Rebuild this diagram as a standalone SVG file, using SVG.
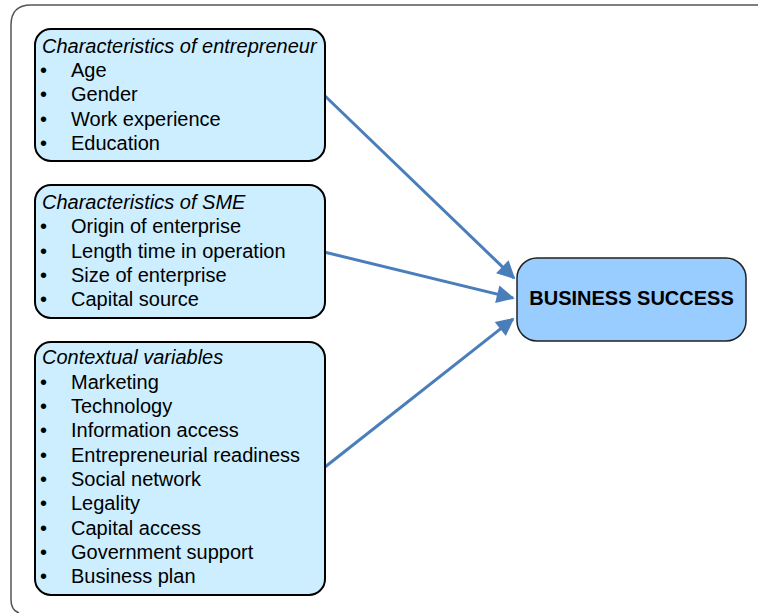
<svg xmlns="http://www.w3.org/2000/svg" width="758" height="613" viewBox="0 0 758 613">
  <style>
    .box { fill: #cceeff; stroke: #000; stroke-width: 2; }
    .goal { fill: #99ccff; stroke: #222; stroke-width: 1.5; }
    .t { font-family: "Liberation Sans", Arial, sans-serif; font-size: 20px; fill: #000; }
    .h { font-style: italic; }
    .b { font-weight: bold; }
    .link { stroke: #4a7ebb; stroke-width: 3; fill: none; marker-end: url(#arrow); }
  </style>
  <defs>
    <marker id="arrow" viewBox="0 0 10 10" refX="9" refY="5" markerWidth="7" markerHeight="6" markerUnits="strokeWidth" orient="auto">
      <path d="M0,0 L10,5 L0,10 z" fill="#4a7ebb"/>
    </marker>
  </defs>

  <rect width="758" height="613" fill="#fff"/>
  <!-- outer frame -->
  <path d="M11,600 L11,25 Q11,5 31,5 L758,5" fill="none" stroke="#555" stroke-width="1.5"/>
  <path d="M11,600 Q11,610 19,613" fill="none" stroke="#555" stroke-width="1.5"/>

  <g id="connectors">
    <line class="link" x1="324" y1="95" x2="514" y2="278"/>
    <line class="link" x1="324" y1="252" x2="513" y2="298"/>
    <line class="link" x1="325" y1="467" x2="513" y2="319"/>
  </g>

  <g id="entrepreneur">
    <rect class="box" x="35" y="29" width="290" height="132" rx="16"/>
    <text class="t h" x="42" y="53">Characteristics of entrepreneur</text>
    <text class="t" x="40" y="77">•</text><text class="t" x="71" y="77">Age</text>
    <text class="t" x="40" y="101">•</text><text class="t" x="71" y="101">Gender</text>
    <text class="t" x="40" y="126">•</text><text class="t" x="71" y="126">Work experience</text>
    <text class="t" x="40" y="150">•</text><text class="t" x="71" y="150">Education</text>
  </g>

  <g id="sme">
    <rect class="box" x="35" y="185" width="290" height="133" rx="16"/>
    <text class="t h" x="42" y="209">Characteristics of SME</text>
    <text class="t" x="40" y="233">•</text><text class="t" x="71" y="233">Origin of enterprise</text>
    <text class="t" x="40" y="258">•</text><text class="t" x="71" y="258">Length time in operation</text>
    <text class="t" x="40" y="282">•</text><text class="t" x="71" y="282">Size of enterprise</text>
    <text class="t" x="40" y="306">•</text><text class="t" x="71" y="306">Capital source</text>
  </g>

  <g id="contextual">
    <rect class="box" x="35" y="342" width="290" height="253" rx="16"/>
    <text class="t h" x="42" y="364">Contextual variables</text>
    <text class="t" x="40" y="389">•</text><text class="t" x="71" y="389">Marketing</text>
    <text class="t" x="40" y="413">•</text><text class="t" x="71" y="413">Technology</text>
    <text class="t" x="40" y="437">•</text><text class="t" x="71" y="437">Information access</text>
    <text class="t" x="40" y="462">•</text><text class="t" x="71" y="462">Entrepreneurial readiness</text>
    <text class="t" x="40" y="486">•</text><text class="t" x="71" y="486">Social network</text>
    <text class="t" x="40" y="510">•</text><text class="t" x="71" y="510">Legality</text>
    <text class="t" x="40" y="535">•</text><text class="t" x="71" y="535">Capital access</text>
    <text class="t" x="40" y="559">•</text><text class="t" x="71" y="559">Government support</text>
    <text class="t" x="40" y="583">•</text><text class="t" x="71" y="583">Business plan</text>
  </g>

  <g id="business-success">
    <rect class="goal" x="517" y="258" width="229" height="83" rx="20"/>
    <text class="t b" x="631.5" y="305" text-anchor="middle">BUSINESS SUCCESS</text>
  </g>
</svg>
